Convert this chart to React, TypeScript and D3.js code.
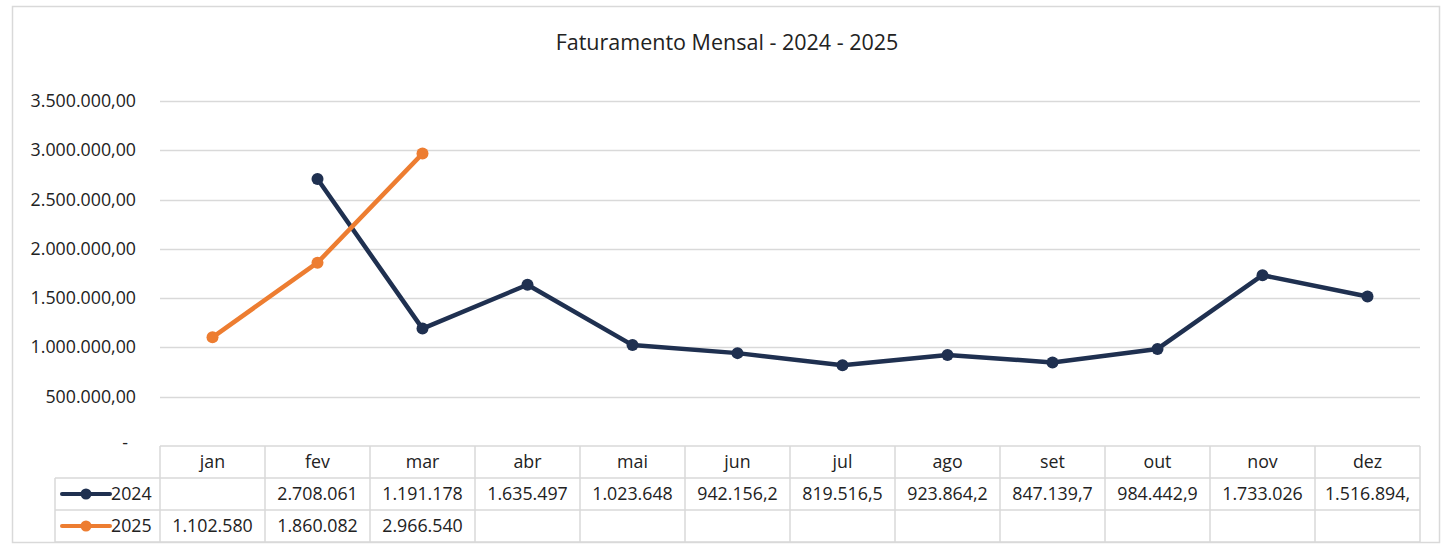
import { useEffect, useRef } from 'react';
import * as d3 from 'd3';

const months = ['jan', 'fev', 'mar', 'abr', 'mai', 'jun', 'jul', 'ago', 'set', 'out', 'nov', 'dez'];
const values2024: (number | null)[] = [null, 2708061, 1191178, 1635497, 1023648, 942156.2, 819516.5, 923864.2, 847139.7, 984442.9, 1733026, 1516894];
const values2025: (number | null)[] = [1102580, 1860082, 2966540, null, null, null, null, null, null, null, null, null];
// textos como aparecem (cortados) na tabela de dados
const labels2024 = ['', '2.708.061', '1.191.178', '1.635.497', '1.023.648', '942.156,2', '819.516,5', '923.864,2', '847.139,7', '984.442,9', '1.733.026', '1.516.894,'];
const labels2025 = ['1.102.580', '1.860.082', '2.966.540', '', '', '', '', '', '', '', '', ''];
const yTicks = [0, 500000, 1000000, 1500000, 2000000, 2500000, 3000000, 3500000];
const yTickLabels = ['-', '500.000,00', '1.000.000,00', '1.500.000,00', '2.000.000,00', '2.500.000,00', '3.000.000,00', '3.500.000,00'];

const series = [
  { name: '2024', values: values2024, labels: labels2024, color: '#1F3050' },
  { name: '2025', values: values2025, labels: labels2025, color: '#ED7D31' },
];

export default function App() {
  const ref = useRef<SVGSVGElement>(null);

  useEffect(() => {
    if (!ref.current) return;
    const svg = d3.select(ref.current);
    svg.selectAll('*').remove();

    const W = 1446, H = 545;
    const left = 160, right = 1420, top = 101, bottom = 446;
    const rowH = 32;
    const font = "'Open Sans', sans-serif";
    const fs = '17.8px';
    const gridColor = '#D9D9D9';

    svg.attr('width', W).attr('height', H);

    // cadre
    svg.append('rect')
      .attr('x', 12.5).attr('y', 6.5).attr('width', 1427).attr('height', 536)
      .attr('fill', 'white').attr('stroke', gridColor).attr('stroke-width', 1.5);

    // titre
    svg.append('text')
      .attr('x', 727).attr('y', 50)
      .attr('text-anchor', 'middle')
      .style('font-family', font).style('font-size', '21.5px').style('fill', '#222')
      .text('Faturamento Mensal - 2024 - 2025');

    const x = d3.scaleBand().domain(months).range([left, right]);
    const y = d3.scaleLinear().domain([0, 3500000]).range([bottom, top]);

    // grille + étiquettes Y
    const g = svg.append('g');
    yTicks.forEach((t, i) => {
      if (t > 0) {
        g.append('line')
          .attr('x1', left).attr('x2', right)
          .attr('y1', Math.round(y(t)) + 0.5).attr('y2', Math.round(y(t)) + 0.5)
          .attr('stroke', gridColor).attr('stroke-width', 1.5);
      }
      g.append('text')
        .attr('x', t === 0 ? 128 : 136).attr('y', y(t) + (t === 0 ? 3 : 6))
        .attr('text-anchor', 'end')
        .style('font-family', font).style('font-size', fs).style('fill', '#222')
        .text(yTickLabels[i]);
    });

    // tableau de données
    const tbl = svg.append('g').attr('stroke', gridColor).attr('stroke-width', 1.5);
    const tBottom = bottom + rowH * 3;
    tbl.append('line').attr('x1', left).attr('x2', right).attr('y1', bottom).attr('y2', bottom);
    tbl.append('line').attr('x1', 55).attr('x2', right).attr('y1', bottom + rowH).attr('y2', bottom + rowH);
    tbl.append('line').attr('x1', 55).attr('x2', right).attr('y1', bottom + rowH * 2).attr('y2', bottom + rowH * 2);
    tbl.append('line').attr('x1', 55).attr('x2', right).attr('y1', tBottom).attr('y2', tBottom);
    tbl.append('line').attr('x1', 55).attr('x2', 55).attr('y1', bottom + rowH).attr('y2', tBottom);
    months.forEach(m => {
      tbl.append('line').attr('x1', x(m)!).attr('x2', x(m)!).attr('y1', bottom).attr('y2', tBottom);
    });
    tbl.append('line').attr('x1', right).attr('x2', right).attr('y1', bottom).attr('y2', tBottom);

    const txt = svg.append('g')
      .style('font-family', font).style('font-size', fs).style('fill', '#222')
      .attr('text-anchor', 'middle');
    months.forEach(m => {
      txt.append('text').attr('x', x(m)! + x.bandwidth() / 2).attr('y', bottom + 22).text(m);
    });
    series.forEach((s, si) => {
      const ry = bottom + rowH * (si + 1);
      s.labels.forEach((l, i) => {
        if (!l) return;
        txt.append('text').attr('x', x(months[i])! + x.bandwidth() / 2).attr('y', ry + 22).text(l);
      });
      // clé de légende
      svg.append('line')
        .attr('x1', 62).attr('x2', 110).attr('y1', ry + 16).attr('y2', ry + 16)
        .attr('stroke', s.color).attr('stroke-width', 4).attr('stroke-linecap', 'round');
      svg.append('circle').attr('cx', 86).attr('cy', ry + 16).attr('r', 5.5).attr('fill', s.color);
      svg.append('text')
        .attr('x', 111).attr('y', ry + 22)
        .style('font-family', font).style('font-size', fs).style('fill', '#222')
        .text(s.name);
    });

    // séries
    series.forEach(s => {
      const pts = s.values.map((v, i) => ({ m: months[i], v })).filter(d => d.v !== null) as { m: string; v: number }[];
      const line = d3.line<{ m: string; v: number }>()
        .x(d => x(d.m)! + x.bandwidth() / 2)
        .y(d => y(d.v));
      svg.append('path')
        .datum(pts)
        .attr('d', line)
        .attr('fill', 'none')
        .attr('stroke', s.color)
        .attr('stroke-width', 4.5)
        .attr('stroke-linejoin', 'round')
        .attr('stroke-linecap', 'round');
      svg.selectAll(null)
        .data(pts)
        .enter()
        .append('circle')
        .attr('cx', d => x(d.m)! + x.bandwidth() / 2)
        .attr('cy', d => y(d.v))
        .attr('r', 6)
        .attr('fill', s.color);
    });
  }, []);

  return <svg ref={ref} style={{ position: 'absolute', left: 0, top: 0, background: 'white' }} />;
}
